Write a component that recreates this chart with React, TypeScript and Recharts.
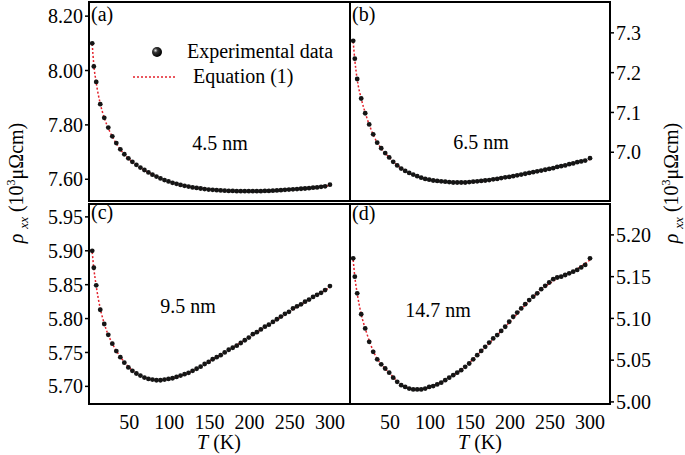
import { ComposedChart, XAxis, YAxis, Scatter, Line, ReferenceArea } from "recharts";

// measured temperatures (K)
const TEMPS = [
  4, 6, 9, 14, 19, 24, 29, 34, 39, 44, 49, 54, 59, 64, 69, 74, 79, 84, 89, 94,
  99, 104, 109, 114, 119, 124, 129, 134, 139, 144, 149, 154, 159, 164, 169, 174,
  179, 184, 189, 194, 199, 204, 209, 214, 219, 224, 229, 234, 239, 244, 249, 254,
  259, 264, 269, 274, 279, 284, 289, 294, 300,
];

// rho_xx (10^3 uOhm cm), experimental data
const RHO_45 = [
  8.1, 8.015, 7.958, 7.876, 7.826, 7.79, 7.758, 7.733, 7.71, 7.692,
  7.677, 7.664, 7.653, 7.643, 7.634, 7.625, 7.617, 7.61, 7.603, 7.597,
  7.592, 7.587, 7.583, 7.579, 7.576, 7.573, 7.57, 7.568, 7.566, 7.564,
  7.562, 7.561, 7.56, 7.559, 7.558, 7.557, 7.557, 7.556, 7.556, 7.556,
  7.556, 7.556, 7.556, 7.556, 7.557, 7.557, 7.558, 7.559, 7.56, 7.561,
  7.562, 7.563, 7.564, 7.565, 7.566, 7.567, 7.569, 7.57, 7.572, 7.574,
  7.58,
];
const RHO_65 = [
  7.28, 7.235, 7.184, 7.135, 7.098, 7.07, 7.045, 7.024, 7.01, 6.998,
  6.987, 6.976, 6.967, 6.959, 6.953, 6.948, 6.944, 6.94, 6.936, 6.933,
  6.931, 6.929, 6.928, 6.927, 6.926, 6.925, 6.924, 6.924, 6.924, 6.924,
  6.925, 6.926, 6.927, 6.928, 6.929, 6.93, 6.932, 6.933, 6.935, 6.937,
  6.938, 6.94, 6.942, 6.944, 6.946, 6.948, 6.95, 6.952, 6.954, 6.956,
  6.958, 6.96, 6.963, 6.965, 6.967, 6.97, 6.972, 6.975, 6.977, 6.979,
  6.985,
];
const RHO_95 = [
  5.9, 5.875, 5.849, 5.813, 5.792, 5.776, 5.763, 5.752, 5.743, 5.735,
  5.728, 5.723, 5.719, 5.716, 5.713, 5.711, 5.71, 5.709, 5.709, 5.71,
  5.711, 5.712, 5.714, 5.716, 5.718, 5.72, 5.723, 5.726, 5.729, 5.733,
  5.736, 5.74, 5.743, 5.746, 5.75, 5.754, 5.757, 5.76, 5.764, 5.768,
  5.772, 5.777, 5.78, 5.784, 5.788, 5.791, 5.795, 5.799, 5.803, 5.807,
  5.81, 5.815, 5.818, 5.821, 5.825, 5.828, 5.832, 5.835, 5.838, 5.842,
  5.848,
];
const RHO_147 = [
  5.172, 5.15, 5.13, 5.105, 5.088, 5.072, 5.06, 5.051, 5.045, 5.04,
  5.035, 5.029, 5.024, 5.02, 5.018, 5.016, 5.015, 5.015, 5.015, 5.016,
  5.018, 5.019, 5.021, 5.023, 5.026, 5.029, 5.032, 5.035, 5.038, 5.042,
  5.046, 5.051, 5.056, 5.061, 5.066, 5.071, 5.076, 5.08, 5.085, 5.09,
  5.096, 5.102, 5.107, 5.112, 5.117, 5.122, 5.126, 5.13, 5.135, 5.139,
  5.143, 5.147, 5.149, 5.15, 5.152, 5.154, 5.156, 5.158, 5.161, 5.164,
  5.172,
];

// Equation (1) fit curves
const FIT_TEMPS = [4, 6, 9, 14, 20, 30, 40, 50, 60, 70, 80, 90, 100, 120, 140, 160, 180, 200, 220, 240, 260, 280, 300];
const FIT_45 = [8.098, 8.02, 7.955, 7.878, 7.818, 7.752, 7.706, 7.674, 7.651, 7.631, 7.616, 7.602, 7.591, 7.575, 7.566, 7.56, 7.557, 7.556, 7.557, 7.56, 7.564, 7.569, 7.577];
const FIT_65 = [7.278, 7.232, 7.183, 7.135, 7.093, 7.04, 7.007, 6.985, 6.966, 6.952, 6.943, 6.936, 6.931, 6.926, 6.924, 6.927, 6.932, 6.939, 6.946, 6.954, 6.963, 6.972, 6.982];
const FIT_95 = [5.898, 5.874, 5.848, 5.815, 5.789, 5.761, 5.742, 5.728, 5.719, 5.713, 5.71, 5.709, 5.711, 5.718, 5.73, 5.744, 5.758, 5.773, 5.788, 5.803, 5.818, 5.832, 5.846];
const FIT_147 = [5.17, 5.15, 5.13, 5.105, 5.085, 5.059, 5.044, 5.034, 5.024, 5.018, 5.015, 5.015, 5.018, 5.026, 5.039, 5.057, 5.076, 5.096, 5.117, 5.135, 5.148, 5.157, 5.17];

const X_TICKS = [50, 100, 150, 200, 250, 300];
const Y_TICKS_45 = [7.6, 7.7, 7.8, 7.9, 8.0, 8.1, 8.2];
const Y_TICKS_65 = [6.9, 7.0, 7.1, 7.2, 7.3];
const Y_TICKS_95 = [5.7, 5.75, 5.8, 5.85, 5.9, 5.95];
const Y_TICKS_147 = [5.0, 5.05, 5.1, 5.15, 5.2];

const FONT = '"Liberation Serif", "DejaVu Serif", serif';
const RED = "#e3202a";
const X_DOMAIN = [0, 325];

const rows = (ts: number[], vs: number[]) => ts.map((t, i) => ({ t, v: vs[i] }));

type PanelProps = {
  left: number;
  top: number;
  width: number;
  height: number;
  margin: { top: number; right: number; bottom: number; left: number };
  exp: number[];
  fit: number[];
  yDomain: number[];
  yTicks: number[];
  digits: number;
  side: "left" | "right";
  xLabels?: boolean;
};

function Panel(p: PanelProps) {
  const tickFont = { fill: "#000", fontSize: 20, fontFamily: FONT };
  return (
    <div style={{ position: "absolute", left: p.left, top: p.top }}>
      <ComposedChart width={p.width} height={p.height} margin={p.margin}>
        <XAxis
          type="number"
          dataKey="t"
          domain={X_DOMAIN}
          ticks={X_TICKS}
          allowDataOverflow
          mirror
          height={10}
          tick={false}
          tickSize={5}
          axisLine={{ stroke: "#000", strokeWidth: 2 }}
          tickLine={{ stroke: "#000", strokeWidth: 1.5 }}
        />
        {p.xLabels && (
          <XAxis
            xAxisId="lbl"
            type="number"
            dataKey="t"
            domain={X_DOMAIN}
            ticks={X_TICKS}
            allowDataOverflow
            height={30}
            axisLine={false}
            tickLine={false}
            tickMargin={5}
            tick={tickFont}
          />
        )}
        <YAxis
          orientation={p.side}
          width={p.side === "left" ? 89 : 75}
          type="number"
          domain={p.yDomain}
          ticks={p.yTicks}
          allowDataOverflow
          tickFormatter={(v: number) => v.toFixed(p.digits)}
          tickSize={4}
          tickMargin={2}
          tick={tickFont}
          axisLine={{ stroke: "#000", strokeWidth: 2 }}
          tickLine={{ stroke: "#000", strokeWidth: 1.5 }}
        />
        <ReferenceArea
          x1={X_DOMAIN[0]}
          x2={X_DOMAIN[1]}
          y1={p.yDomain[0]}
          y2={p.yDomain[1]}
          fill="none"
          stroke="#000"
          strokeWidth={2}
        />
        <Scatter
          data={rows(TEMPS, p.exp)}
          dataKey="v"
          isAnimationActive={false}
          shape={(s: any) => <circle cx={s.cx} cy={s.cy} r={2.4} fill="#151515" />}
        />
        <Line
          data={rows(FIT_TEMPS, p.fit)}
          dataKey="v"
          type="monotone"
          stroke={RED}
          strokeWidth={1.5}
          strokeDasharray="2 2"
          dot={false}
          isAnimationActive={false}
        />
      </ComposedChart>
    </div>
  );
}

function YTitle({ x, y }: { x: number; y: number }) {
  return (
    <text x={x} y={y} transform={`rotate(-90 ${x} ${y})`} textAnchor="middle" fontSize={20} fontFamily={FONT}>
      <tspan fontStyle="italic">ρ</tspan>
      <tspan fontStyle="italic" fontSize={13} dx={5} dy={5}>xx</tspan>
      <tspan dy={-5}> (10</tspan>
      <tspan fontSize={12} dy={-8}>3</tspan>
      <tspan dy={8}>μΩcm)</tspan>
    </text>
  );
}

export default function App() {
  return (
    <div style={{ position: "absolute", left: 0, top: 0, width: 685, height: 455, background: "#fff" }}>
      <Panel left={0} top={0} width={352} height={203} margin={{ top: 2, right: 2, bottom: 2, left: 0 }}
        exp={RHO_45} fit={FIT_45} yDomain={[7.52, 8.252]} yTicks={Y_TICKS_45} digits={2} side="left" />
      <Panel left={348} top={0} width={337} height={203} margin={{ top: 2, right: 0, bottom: 2, left: 2 }}
        exp={RHO_65} fit={FIT_65} yDomain={[6.8775, 7.3775]} yTicks={Y_TICKS_65} digits={1} side="right" />
      <Panel left={0} top={202} width={352} height={253} margin={{ top: 2, right: 2, bottom: 21, left: 0 }}
        exp={RHO_95} fit={FIT_95} yDomain={[5.674, 5.969]} yTicks={Y_TICKS_95} digits={2} side="left" xLabels />
      <Panel left={348} top={202} width={337} height={253} margin={{ top: 2, right: 0, bottom: 21, left: 2 }}
        exp={RHO_147} fit={FIT_147} yDomain={[4.9975, 5.237]} yTicks={Y_TICKS_147} digits={2} side="right" xLabels />

      <svg width={685} height={455} style={{ position: "absolute", left: 0, top: 0, pointerEvents: "none" }}>
        <defs>
          <radialGradient id="ball" cx="35%" cy="35%" r="65%">
            <stop offset="0%" stopColor="#ddd" />
            <stop offset="35%" stopColor="#333" />
            <stop offset="100%" stopColor="#000" />
          </radialGradient>
        </defs>
        <g fontSize={20} fill="#000" fontFamily={FONT}>
          <text x={91} y={21}>(a)</text>
          <text x={352} y={21}>(b)</text>
          <text x={91} y={219}>(c)</text>
          <text x={352} y={220}>(d)</text>

          <text x={220} y={150} textAnchor="middle">4.5 nm</text>
          <text x={481} y={149} textAnchor="middle">6.5 nm</text>
          <text x={188} y={313} textAnchor="middle">9.5 nm</text>
          <text x={438} y={317} textAnchor="middle">14.7 nm</text>

          <circle cx={157} cy={52} r={5} fill="url(#ball)" />
          <text x={187} y={58}>Experimental data</text>
          <line x1={133} y1={77} x2={175} y2={77} stroke={RED} strokeWidth={1.5} strokeDasharray="2 2" />
          <text x={193} y={83}>Equation (1)</text>

          <text x={219} y={449} textAnchor="middle">
            <tspan fontStyle="italic">T</tspan> (K)
          </text>
          <text x={480} y={449} textAnchor="middle">
            <tspan fontStyle="italic">T</tspan> (K)
          </text>
        </g>
        <YTitle x={23} y={183} />
        <YTitle x={678} y={183} />
      </svg>
    </div>
  );
}
